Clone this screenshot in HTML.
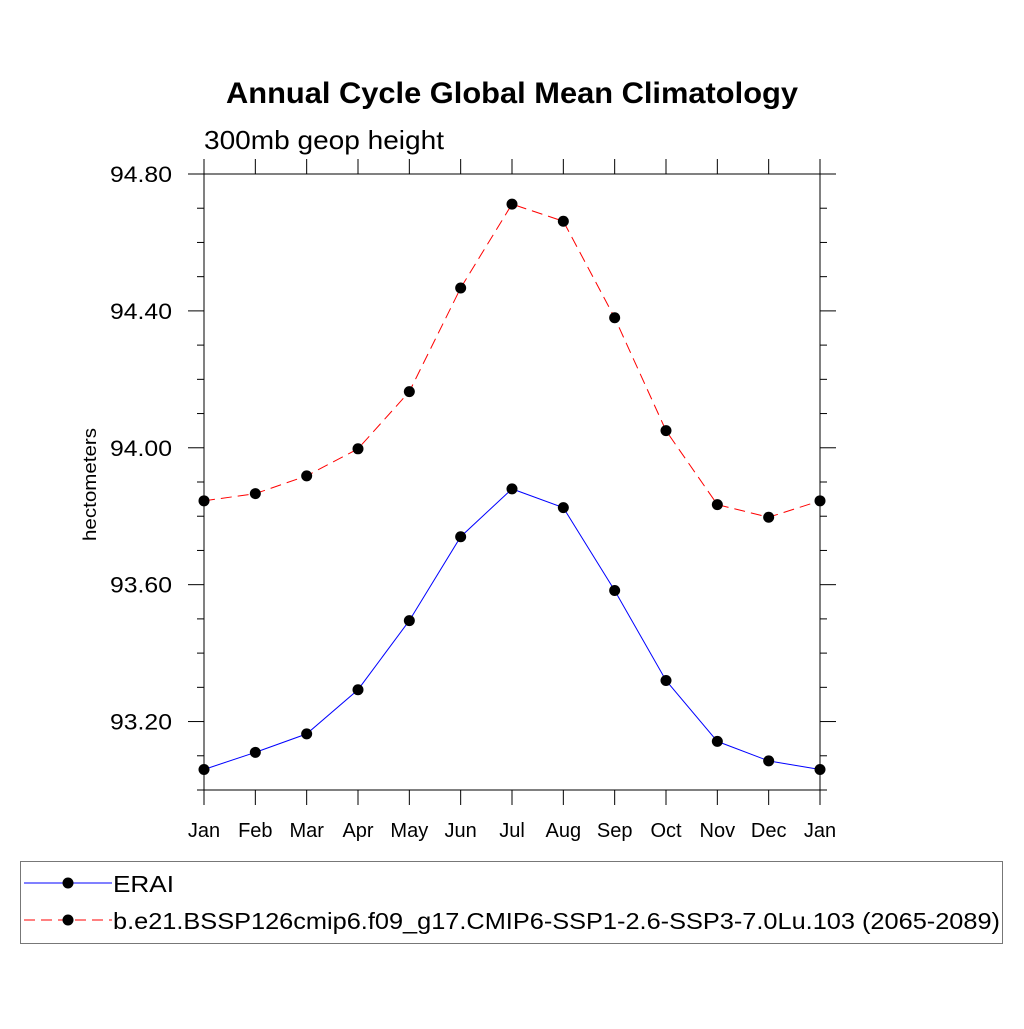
<!DOCTYPE html>
<html><head><meta charset="utf-8"><style>
body{margin:0;background:#fff}
svg text{font-family:"Liberation Sans",sans-serif}
</style></head><body>
<svg id="chart" width="1024" height="1024" viewBox="0 0 1024 1024" xmlns="http://www.w3.org/2000/svg">
<rect width="1024" height="1024" fill="#fff"/>
<text x="226" y="103" font-size="30" font-weight="bold" textLength="572" lengthAdjust="spacingAndGlyphs">Annual Cycle Global Mean Climatology</text>
<text x="204" y="149" font-size="26" textLength="240" lengthAdjust="spacingAndGlyphs">300mb geop height</text>
<text transform="translate(96,541) rotate(-90)" font-size="18" textLength="113" lengthAdjust="spacingAndGlyphs">hectometers</text>
<g id="axes"></g>
<g id="series"></g>
<g>
<rect x="20.5" y="861.5" width="982" height="82" fill="none" stroke="#777" stroke-width="1"/>
<line x1="24" y1="883" x2="112" y2="883" stroke="#0000ff" stroke-width="1"/>
<circle cx="68" cy="883" r="5.5" fill="#000"/>
<text x="113" y="892" font-size="23" textLength="61" lengthAdjust="spacingAndGlyphs">ERAI</text>
<line x1="24" y1="920" x2="112" y2="920" stroke="#ff0000" stroke-width="1" stroke-dasharray="11,6"/>
<circle cx="68" cy="920" r="5.5" fill="#000"/>
<text x="113" y="929" font-size="23" textLength="887" lengthAdjust="spacingAndGlyphs">b.e21.BSSP126cmip6.f09_g17.CMIP6-SSP1-2.6-SSP3-7.0Lu.103 (2065-2089)</text>
</g>
</svg>
<script>
const months=["Jan","Feb","Mar","Apr","May","Jun","Jul","Aug","Sep","Oct","Nov","Dec","Jan"];
const eraiValues=[93.06,93.11,93.164,93.293,93.495,93.74,93.88,93.825,93.583,93.32,93.142,93.085,93.06];
const modelValues=[93.845,93.866,93.918,93.997,94.164,94.467,94.712,94.662,94.38,94.05,93.834,93.797,93.845];
const yMajorTicks=[93.20,93.60,94.00,94.40,94.80];
const yMin=93.0,yMax=94.8;
const X0=204,X1=820,Y0=790,Y1=174;
const NS="http://www.w3.org/2000/svg";
function xs(i){return X0+(X1-X0)*i/(months.length-1);}
function ys(v){return Y0-(v-yMin)/(yMax-yMin)*(Y0-Y1);}
function mk(tag,attrs,parent){const e=document.createElementNS(NS,tag);for(const k in attrs)e.setAttribute(k,attrs[k]);parent.appendChild(e);return e;}
const axes=document.getElementById('axes');
const frame=mk('rect',{x:X0,y:Y1,width:X1-X0,height:Y0-Y1,fill:'none',stroke:'#000','stroke-width':1},axes);


for(let i=0;i<months.length;i++){
  const x=xs(i);
  mk('line',{x1:x,y1:Y0,x2:x,y2:Y0+15,stroke:'#000'},axes);
  mk('line',{x1:x,y1:Y1,x2:x,y2:Y1-15,stroke:'#000'},axes);
  const t=mk('text',{x:x,y:Y0+47,'text-anchor':'middle','font-size':20},axes);
  t.textContent=months[i];
  
  
}
for(let k=0;k<=18;k++){
  const v=yMin+k*0.1;const y=ys(v);
  const major=yMajorTicks.some(m=>Math.abs(m-v)<1e-6);
  const L=major?16:7;
  mk('line',{x1:X0-L,y1:y,x2:X0,y2:y,stroke:'#000'},axes);
  mk('line',{x1:X1,y1:y,x2:X1+L,y2:y,stroke:'#000'},axes);
}
yMajorTicks.forEach(v=>{
  const t=mk('text',{x:110,y:ys(v)+8,'font-size':22,textLength:62,lengthAdjust:'spacingAndGlyphs'},axes);
  t.textContent=v.toFixed(2);
  
  
});
const series=document.getElementById('series');
function draw(vals,color,dash,name){
  const p=mk('polyline',{points:vals.map((v,i)=>xs(i)+','+ys(v)).join(' '),fill:'none',stroke:color,'stroke-width':1},series);
  if(dash)p.setAttribute('stroke-dasharray',dash);
  
  
  vals.forEach((v,i)=>{
    const c=mk('circle',{cx:xs(i),cy:ys(v),r:5.5,fill:'#000'},series);
    
    
  });
}
draw(eraiValues,'#0000ff',null,'erai');
draw(modelValues,'#ff0000','11,6','model');
</script>
</body></html>
